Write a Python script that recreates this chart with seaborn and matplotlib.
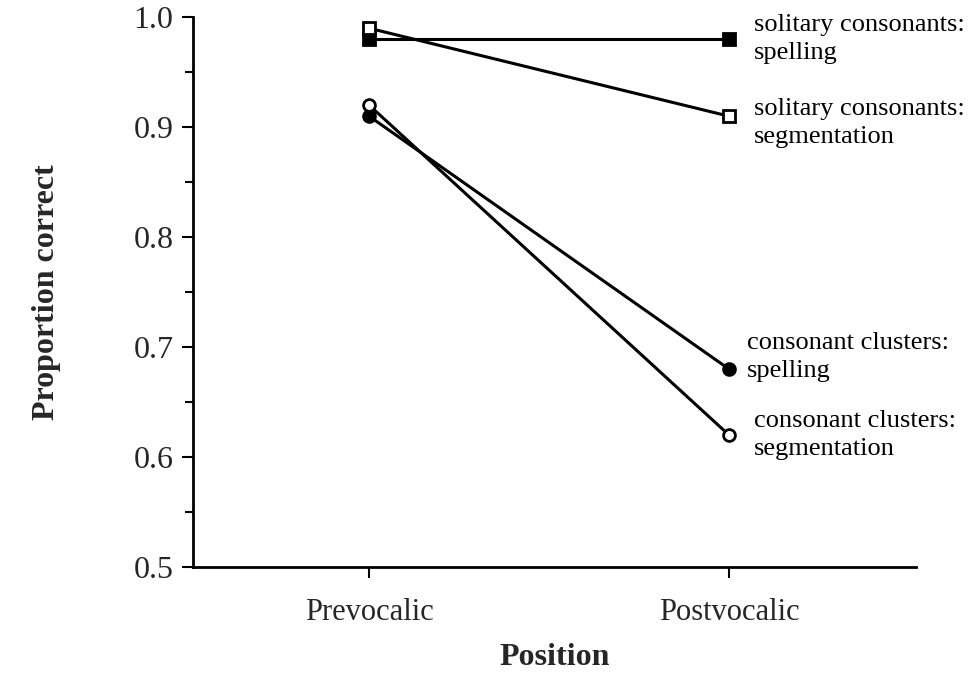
import matplotlib
matplotlib.use('Agg')
import matplotlib.pyplot as plt
import seaborn as sns
import pandas as pd
from matplotlib.ticker import MultipleLocator

# Данные графика
positions = ['Prevocalic', 'Postvocalic']
series_names = [
    'solitary consonants:\nspelling',
    'solitary consonants:\nsegmentation',
    'consonant clusters:\nspelling',
    'consonant clusters:\nsegmentation',
]
solitary_spelling = [0.98, 0.98]
solitary_segmentation = [0.99, 0.91]
clusters_spelling = [0.91, 0.68]
clusters_segmentation = [0.92, 0.62]

values = [solitary_spelling, solitary_segmentation, clusters_spelling, clusters_segmentation]
markers = ['s', 's', 'o', 'o']
filled = [True, False, True, False]

rows = []
for name, vals in zip(series_names, values):
    for i, (pos, v) in enumerate(zip(positions, vals)):
        rows.append({'series': name, 'x': i, 'position': pos, 'value': v})
df = pd.DataFrame(rows)

sns.set_style('ticks')
plt.rcParams['font.family'] = ['Liberation Serif', 'DejaVu Serif']

fig = plt.figure(figsize=(9.79, 6.90), dpi=100)
ax = fig.add_axes([0.197, 0.178, 0.739, 0.797])

for name, m, f in zip(series_names, markers, filled):
    sub = df[df['series'] == name]
    sns.lineplot(data=sub, x='x', y='value', ax=ax, color='black', linewidth=2.2,
                 marker=m, markersize=8.5, markeredgewidth=2.0, markeredgecolor='black',
                 markerfacecolor='black' if f else 'white', legend=False)

# Подписи серий справа от точек
label_dx = [0.07, 0.07, 0.05, 0.07]
label_dy = [0.0, -0.006, 0.011, 0.0]
for name, vals, dx, dy in zip(series_names, values, label_dx, label_dy):
    ax.text(1 + dx, vals[-1] + dy, name, ha='left', va='center', fontsize=19,
            linespacing=1.35, color='black')

ax.set_xlim(-0.49, 1.52)
ax.set_ylim(0.5, 1.0)
ax.set_xticks([0, 1])
ax.set_xticklabels(positions, fontsize=22)
ax.yaxis.set_minor_locator(MultipleLocator(0.05))
ax.set_yticks([0.5, 0.6, 0.7, 0.8, 0.9, 1.0])
ax.set_yticklabels(['0.5', '0.6', '0.7', '0.8', '0.9', '1.0'], fontsize=23)
ax.tick_params(axis='both', which='major', length=8, width=1.5, color='black', pad=6)
ax.tick_params(axis='y', which='minor', length=6, width=1.5, color='black')
ax.tick_params(axis='x', pad=14)

sns.despine(ax=ax)
for s in ['left', 'bottom']:
    ax.spines[s].set_linewidth(2.0)
    ax.spines[s].set_color('black')

ax.set_xlabel('Position', fontsize=23, fontweight='bold', labelpad=12)
ax.set_ylabel('Proportion correct', fontsize=23, fontweight='bold', labelpad=52)

fig.savefig('out.png', dpi=100, facecolor='white')
